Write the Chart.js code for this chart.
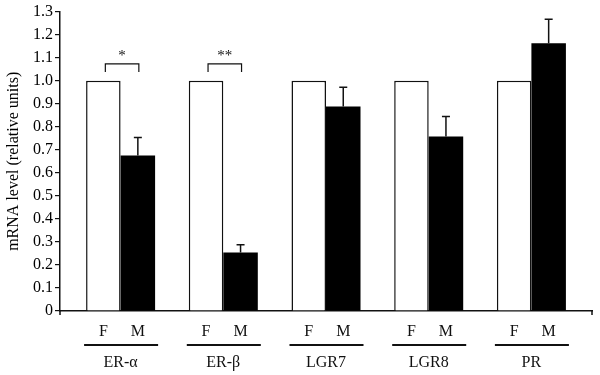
<!DOCTYPE html>
<html>
<head>
<meta charset="utf-8">
<script src="https://cdn.jsdelivr.net/npm/chart.js@4"></script>
<style>
  html, body { margin: 0; padding: 0; background: #fff; }
  #wrap { width: 600px; height: 375px; }
</style>
</head>
<body>
<div id="wrap"><canvas id="grafico"></canvas></div>
<script>
// dados
const genes = ['ER-\u03b1', 'ER-\u03b2', 'LGR7', 'LGR8', 'PR']
const sexos = ['F', 'M']
const valoresF = [1.0, 1.0, 1.0, 1.0, 1.0]
const valoresM = [0.675, 0.254, 0.888, 0.758, 1.163]
const errosM = [0.078, 0.034, 0.083, 0.087, 0.104]
const estrelas = ['*', '**', '', '', '']
const yTicks = [0, 0.1, 0.2, 0.3, 0.4, 0.5, 0.6, 0.7, 0.8, 0.9, 1.0, 1.1, 1.2, 1.3]

const fonte = '"Liberation Serif", "DejaVu Serif", serif'
const preto = '#111'

// desenha barras de erro, colchetes e rotulos do eixo x
const extras = {
    id: 'extras',
    afterDatasetsDraw(chart) {
        const c = chart.ctx
        const y = chart.scales.y
        const area = chart.chartArea
        const metaF = chart.getDatasetMeta(0)
        const metaM = chart.getDatasetMeta(1)
        c.save()
        c.strokeStyle = preto
        c.fillStyle = preto

        // barras de erro (so para cima)
        c.lineWidth = 1.5
        for (let i = 0; i < valoresM.length; i++) {
            const bar = metaM.data[i]
            const yTop = y.getPixelForValue(valoresM[i] + errosM[i])
            c.beginPath()
            c.moveTo(bar.x, bar.y)
            c.lineTo(bar.x, yTop)
            c.moveTo(bar.x - 4, yTop)
            c.lineTo(bar.x + 4, yTop)
            c.stroke()
        }

        // colchetes de significancia
        for (let i = 0; i < estrelas.length; i++) {
            if (!estrelas[i]) continue
            const x1 = metaF.data[i].x + 2
            const x2 = metaM.data[i].x + 1
            const yT = y.getPixelForValue(1.073)
            const yB = y.getPixelForValue(1.038)
            c.lineWidth = 1.2
            c.beginPath()
            c.moveTo(x1, yB)
            c.lineTo(x1, yT)
            c.lineTo(x2, yT)
            c.lineTo(x2, yB)
            c.stroke()
            c.font = '15px ' + fonte
            c.textAlign = 'center'
            c.textBaseline = 'middle'
            c.fillText(estrelas[i], (x1 + x2) / 2, yT - 8)
        }

        // pequenas marcas nas pontas do eixo x
        c.lineWidth = 1.5
        c.beginPath()
        c.moveTo(area.left, area.bottom)
        c.lineTo(area.left, area.bottom + 4)
        c.moveTo(area.right, area.bottom)
        c.lineTo(area.right, area.bottom + 4)
        c.stroke()

        // rotulos F / M, linha e nome do gene
        c.font = '16px ' + fonte
        c.textAlign = 'center'
        c.textBaseline = 'middle'
        for (let i = 0; i < genes.length; i++) {
            const bf = metaF.data[i]
            const bm = metaM.data[i]
            c.fillText(sexos[0], bf.x, area.bottom + 21)
            c.fillText(sexos[1], bm.x, area.bottom + 21)
            c.lineWidth = 2
            c.beginPath()
            c.moveTo(bf.x - bf.width / 2 - 2, area.bottom + 34)
            c.lineTo(bm.x + bm.width / 2 + 3, area.bottom + 34)
            c.stroke()
            c.fillText(genes[i], (bf.x + bm.x) / 2, area.bottom + 52)
        }
        c.restore()
    }
}

const ctx = document.getElementById('grafico')

new Chart(ctx, {
    type: 'bar',
    data: {
        datasets: [{
            label: 'F',
            data: valoresF.map((v, i) => ({ x: i, y: v })),
            backgroundColor: '#fff',
            borderColor: preto,
            borderWidth: 1.5
        }, {
            label: 'M',
            data: valoresM.map((v, i) => ({ x: i, y: v })),
            backgroundColor: '#000',
            borderWidth: 0
        }]
    },
    options: {
        responsive: true,
        maintainAspectRatio: false,
        animation: false,
        categoryPercentage: 0.672,
        barPercentage: 1,
        layout: { padding: { top: 0, right: 8, bottom: 64, left: 0 } },
        plugins: {
            legend: { display: false },
            tooltip: { enabled: false }
        },
        scales: {
            x: {
                type: 'linear',
                min: -0.59,
                max: 4.59,
                offset: false,
                afterFit(s) { s.height = 0 },
                afterBuildTicks(s) { s.ticks = genes.map((g, i) => ({ value: i })) },
                grid: { display: false, offset: false },
                ticks: { display: false },
                border: { display: true, color: preto, width: 1.5 }
            },
            y: {
                min: 0,
                max: 1.3,
                afterFit(s) { s.width = 60 },
                afterBuildTicks(s) { s.ticks = yTicks.map(v => ({ value: v })) },
                grid: {
                    display: true,
                    drawOnChartArea: false,
                    drawTicks: true,
                    tickLength: 5,
                    color: preto,
                    lineWidth: 1.2
                },
                border: { display: true, color: preto, width: 1.5 },
                ticks: {
                    color: '#000',
                    padding: 2,
                    font: { family: fonte, size: 16 },
                    callback: v => v === 0 ? '0' : Number(v).toFixed(1)
                },
                title: {
                    display: true,
                    text: 'mRNA level (relative units)',
                    color: '#000',
                    padding: { top: 4, bottom: 0 },
                    font: { family: fonte, size: 16 }
                }
            }
        }
    },
    plugins: [extras]
})
</script>
</body>
</html>
